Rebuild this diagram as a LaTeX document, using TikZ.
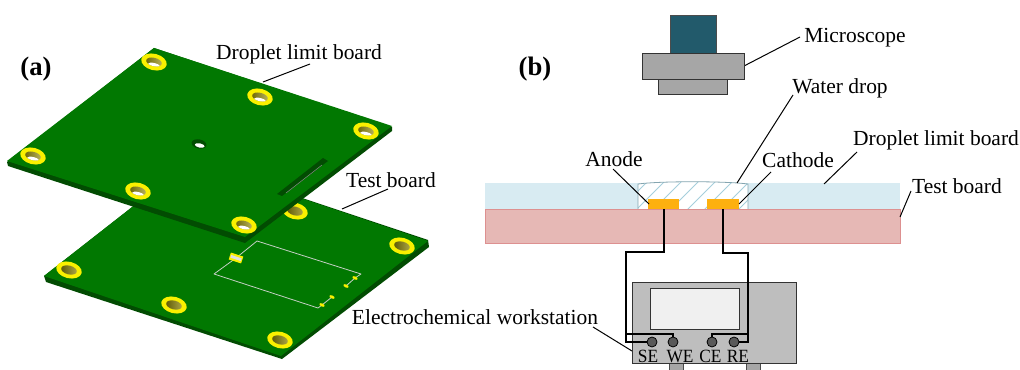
\documentclass[tikz,border=0pt]{standalone}
\usepackage{fontspec}
\setmainfont{Liberation Serif}
\usetikzlibrary{shapes.geometric}
\definecolor{pcb}{HTML}{017801}
\definecolor{pcbdark}{HTML}{024C02}
\definecolor{ringy}{HTML}{FAF000}
\definecolor{olive}{HTML}{948C00}
\definecolor{teal2}{HTML}{225A6B}
\definecolor{liq}{HTML}{D8EBF2}
\definecolor{sub}{HTML}{E6B8B5}
\definecolor{subl}{HTML}{DD9090}
\definecolor{gold}{HTML}{FDB00F}
\definecolor{hatchc}{HTML}{A5CFDC}
\definecolor{box}{HTML}{BEBEBE}
\definecolor{mic}{HTML}{A6A6A6}
\definecolor{trace}{HTML}{C4CFC4}
\tikzset{
  lbl/.style={inner sep=0pt,font=\fontsize{16.1}{18}\selectfont,text=black},
  bold/.style={inner sep=0pt,font=\fontsize{20}{22}\selectfont\bfseries,text=black},
  pin/.style={inner sep=0pt,font=\fontsize{14}{15}\selectfont,text=black,xscale=0.93},
  lead/.style={draw=black,line width=0.75pt},
  wire/.style={draw=black,line width=0.8pt},
  port/.style={circle,draw=black,fill=black!65,line width=0.6pt,minimum size=7.5pt,inner sep=0pt},
  tracel/.style={draw=trace,line width=0.6pt},
}
\newcommand{\holeA}[1]{%
  \begin{scope}[shift={(#1)},rotate=-14]
    \fill[ringy] (0,0) ellipse (13 and 8.2);
    \begin{scope}
      \clip (0,0) ellipse (8 and 4.2);
      \shade[left color=olive!70!black,right color=olive!60!white] (-9,-5) rectangle (9,5);
      \fill[white] (1,3.4) ellipse (6.5 and 2.5);
    \end{scope}
  \end{scope}}
\newcommand{\holeB}[1]{%
  \begin{scope}[shift={(#1)},rotate=-14]
    \fill[ringy] (0,0) ellipse (13 and 8.2);
    \begin{scope}
      \clip (0,0) ellipse (8 and 4.4);
      \shade[left color=olive!60!black,right color=olive!70!white] (-9,-5) rectangle (9,5);
    \end{scope}
  \end{scope}}
\begin{document}
\begin{tikzpicture}[x=0.75pt,y=-0.75pt]
\useasboundingbox (0,0) rectangle (1020,370);
% lower board
\fill[pcbdark] (44,276) -- (46,282) -- (282,359) -- (429,247) -- (428,240) -- (191,161) -- cycle;
\fill[pcb] (44,276) -- (191,161) -- (428,241) -- (281,356) -- cycle;
\holeB{295,211}\holeB{402,246}\holeB{69,270}\holeB{174,305}\holeB{280,340}
\draw[tracel,line join=round] (236,258) -- (257,241) -- (361,274) -- (355,278);
\draw[tracel,line join=round] (346,286) -- (355,278);
\draw[tracel,line join=round] (236,258) -- (214,274) -- (318,308) -- (322,305) -- (332,297);
\begin{scope}[shift={(236,258)},rotate=-18]
  \fill[ringy] (-6.5,-3.6) rectangle (6.5,3.6);
  \fill[black!12] (-5.5,-1.4) rectangle (5.5,1.4);
\end{scope}
\foreach \p in {(355,278),(346,286),(332,297),(322,305)}{\fill[ringy,rotate around={-25:\p}] \p ellipse (2.8 and 1.5);}
% upper board
\fill[pcbdark] (7,162) -- (8,166) -- (245,243) -- (392,131) -- (392,127) -- (154,48) -- cycle;
\fill[pcb] (7,161) -- (154,48) -- (392,126) -- (245,237) -- cycle;
\holeA{154,62}\holeA{260,97}\holeA{366,131}\holeA{33,156}\holeA{138,191}\holeA{244,225}
\begin{scope}[shift={(199,144)},rotate=-12]
  \fill[pcbdark] (0,0) ellipse (7.5 and 4.6);
  \fill[white] (1,1.3) ellipse (5 and 2.1);
\end{scope}
\fill[pcbdark] (277,194) -- (323,158) -- (328,161) -- (282,196) -- cycle;
\draw[black!35!trace,line width=0.4pt] (286,193) -- (322,165);
% labels a
\node[bold,anchor=center] (la) at (36,69) {(a)};
\node[lbl,anchor=center] (ldb) at (299,54) {Droplet limit board};
\node[lbl,anchor=center] (ltb) at (391,180) {Test board};
\node[lbl,anchor=center] (lew) at (475,317) {Electrochemical workstation};
\coordinate (ca1) at (263,82); \coordinate (ca2) at (310,64);
\coordinate (cb1) at (342,209); \coordinate (cb2) at (388,189);
\draw[lead] (ca1) -- (ca2);
\draw[lead] (cb1) -- (cb2);
% layers
\fill[liq] (485,183) rectangle (900,209);
\fill[sub] (485,209) rectangle (900,243);
\draw[subl,line width=0.5pt] (485,243) -- (485,209) -- (900,209) -- (900,243) -- cycle;
% cavity
\fill[white] (638,209) -- (638,184) .. controls (660,181) and (725,181) .. (748,184) -- (748,209) -- cycle;
\begin{scope}
  \clip (638,209) -- (638,184) .. controls (660,181) and (725,181) .. (748,184) -- (748,209) -- cycle;
  \foreach \k in {0,...,9}{\draw[hatchc,line width=0.6pt] (615+\k*17,214) -- (655+\k*17,174);}
\end{scope}
\draw[hatchc!80!black,line width=0.6pt] (638,209) -- (638,184) .. controls (660,181) and (725,181) .. (748,184) -- (748,209);
% electrodes
\fill[gold] (648,199) rectangle (679,209);
\fill[gold] (707,199) rectangle (739,209);
\node[bold,anchor=center] (lb) at (535,69) {(b)};
\node[lbl,anchor=center] (lan) at (614,159) {Anode};
\node[lbl,anchor=center] (lca) at (798,160) {Cathode};
\node[lbl,anchor=center] (lwd) at (840,88) {Water drop};
\node[lbl,anchor=center] (lmi) at (855,38) {Microscope};
\node[lbl,anchor=center] (ldr) at (936,140) {Droplet limit board};
\node[lbl,anchor=center] (ltr) at (957,186) {Test board};
\coordinate (an1) at (613,169); \coordinate (an2) at (649,204);
\coordinate (ca3) at (771,172); \coordinate (ca4) at (739,204);
\coordinate (wd1) at (793,95); \coordinate (wd2) at (737,183);
\coordinate (dr1) at (857,152); \coordinate (dr2) at (824,184);
\coordinate (tr1) at (911,191); \coordinate (tr2) at (900,217);
\coordinate (mi1) at (744,66); \coordinate (mi2) at (800,37);
\coordinate (ew1) at (593,327); \coordinate (ew2) at (632,351);
\foreach \a/\b in {an1/an2,ca3/ca4,wd1/wd2,dr1/dr2,tr1/tr2,mi1/mi2,ew1/ew2}{\draw[lead] (\a) -- (\b);}
% microscope
\draw[fill=teal2,draw=black!70,line width=0.6pt] (670,15) rectangle (716,53);
\draw[fill=mic,draw=black!80,line width=0.7pt] (658,79) rectangle (727,94);
\draw[fill=mic,draw=black!80,line width=0.7pt] (642,53) rectangle (744,79);
% workstation
\fill[mic] (669,363) rectangle (683,370);
\fill[mic] (746,363) rectangle (760,370);
\draw[black!70,line width=0.6pt] (669,370) -- (669,363) -- (683,363) -- (683,370);
\draw[black!70,line width=0.6pt] (746,370) -- (746,363) -- (760,363) -- (760,370);
\draw[fill=box,draw=black!80,line width=0.7pt] (632,282) rectangle (796,363);
\draw[fill=black!6,draw=black!80,line width=0.7pt] (650,288) rectangle (739,329);
\node[port] (se) at (652,342) {};
\node[port] (we) at (673,342) {};
\node[port] (ce) at (712,342) {};
\node[port] (re) at (734,342) {};
\coordinate (ta) at (664,209); \coordinate (tc) at (723,209);
\draw[wire] (ta) -- (664,252) -- (626,252) -- (626,342) -- (se);
\draw[wire] (626,334) -- (673,334) -- (we);
\draw[wire] (tc) -- (723,253) -- (748,253) -- (748,342) -- (re);
\draw[wire] (748,334) -- (712,334) -- (ce);
\node[pin,anchor=base] (tse) at (648,362) {SE};
\node[pin,anchor=base] (twe) at (680,362) {WE};
\node[pin,anchor=base] (tce) at (710.5,362) {CE};
\node[pin,anchor=base] (tre) at (738,362) {RE};
\end{tikzpicture}
\end{document}
